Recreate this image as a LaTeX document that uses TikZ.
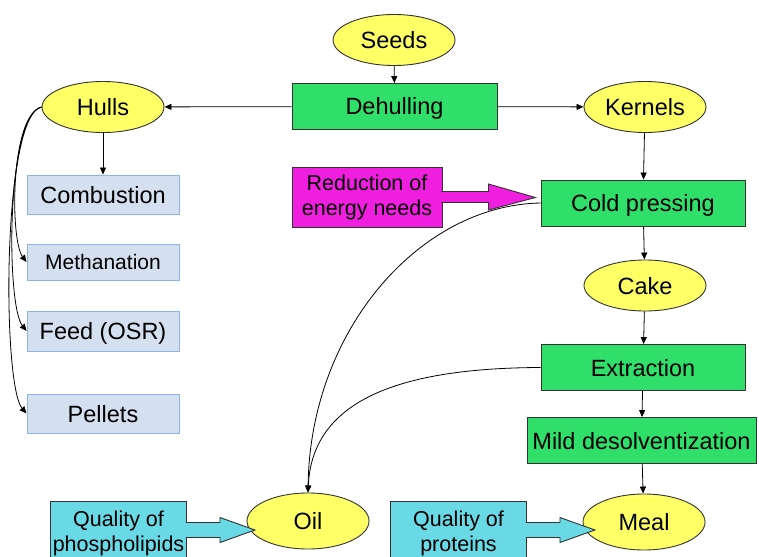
\documentclass[tikz,border=0pt]{standalone}
\usepackage{fontspec}
\setmainfont{Liberation Sans}
\usetikzlibrary{shapes.geometric,arrows.meta,calc}
\definecolor{bulb}{RGB}{255,255,102}
\definecolor{stepgreen}{RGB}{48,222,106}
\definecolor{usebox}{RGB}{212,223,239}
\definecolor{useline}{RGB}{142,180,227}
\definecolor{pinkish}{RGB}{240,30,222}
\definecolor{aqua}{RGB}{104,217,229}
\begin{document}
\begin{tikzpicture}[x=1pt,y=-1pt,line width=0.9pt,
	font=\fontsize{23.5}{26}\selectfont,
	product/.style={ellipse,draw=black!80,fill=bulb,minimum width=122pt,minimum height=51pt,inner sep=0pt,text height=17pt,text depth=0pt},
	process/.style={rectangle,draw=black!80,fill=stepgreen,minimum width=204pt,minimum height=46pt,inner sep=0pt,text height=17pt,text depth=0pt},
	use/.style={rectangle,draw=useline,fill=usebox,minimum width=152pt,minimum height=39pt,inner sep=0pt,text height=17pt,text depth=0pt},
	flow/.style={-{Triangle[length=7pt,width=6pt]},line width=0.8pt},
	note/.style={rectangle,draw=black!80,inner sep=0pt,align=center,font=\fontsize{21.5}{25}\selectfont}]
\useasboundingbox (0,0) rectangle (759,556);
% main line
\node[product] (seeds) at (394,40) {Seeds};
\node[process,minimum width=205pt] (dehull) at (394.5,106.5) {Dehulling};
\node[product] (hulls) at (103,107) {Hulls};
\node[product] (kernels) at (645,107) {Kernels};
\node[process] (cold) at (643,203) {Cold pressing};
\node[product] (cake) at (645,285.5) {Cake};
\node[process] (extr) at (643,367.5) {Extraction};
\node[process,minimum width=229pt] (mild) at (641.5,440.5) {Mild desolventization};
\node[product,minimum height=56pt] (meal) at (644,522) {Meal};
\node[product,minimum height=56pt] (oil) at (308,521) {Oil};
% uses of the hulls
\node[use] (comb) at (103,194.5) {Combustion};
\node[use,minimum height=36pt,text height=15pt,font=\fontsize{21}{24}\selectfont] (meth) at (103,262) {Methanation};
\node[use,minimum height=40pt] (feed) at (103,331) {Feed (OSR)};
\node[use] (pellets) at (103,413.5) {Pellets};
% notes
\node[note,fill=pinkish,minimum width=150pt,minimum height=60pt] (energy) at (367,197) {Reduction of\\energy needs};
\node[note,fill=aqua,minimum width=136pt,minimum height=64pt] (phos) at (118.5,533) {Quality of\\phospholipids};
\node[note,fill=aqua,minimum width=136pt,minimum height=64pt] (prot) at (458.5,533) {Quality of\\proteins};
\filldraw[fill=pinkish,draw=black!80]
	($(energy.east)+(-1,-5.5)$) -- ($(energy.east)+(46,-5.5)$) -- ($(energy.east)+(46,-13)$)
	-- ($(energy.east)+(93,0.5)$)
	-- ($(energy.east)+(46,13)$) -- ($(energy.east)+(46,5.5)$) -- ($(energy.east)+(-1,5.5)$);
\filldraw[fill=aqua,draw=black!80]
	($(phos.east)+(-1,-10.5)$) -- ($(phos.east)+(33,-10.5)$) -- ($(phos.east)+(33,-15.5)$)
	-- ($(phos.east)+(68,-3)$)
	-- ($(phos.east)+(33,9.5)$) -- ($(phos.east)+(33,4.5)$) -- ($(phos.east)+(-1,4.5)$);
\filldraw[fill=aqua,draw=black!80]
	($(prot.east)+(-1,-10.5)$) -- ($(prot.east)+(33,-10.5)$) -- ($(prot.east)+(33,-15.5)$)
	-- ($(prot.east)+(68,-3)$)
	-- ($(prot.east)+(33,9.5)$) -- ($(prot.east)+(33,4.5)$) -- ($(prot.east)+(-1,4.5)$);
% connectors
\draw[flow] (seeds) -- (dehull);
\draw[flow] (dehull) -- (hulls);
\draw[flow] (dehull) -- (kernels);
\draw[flow] (hulls) -- (comb);
\draw[flow] (hulls.west) .. controls (10,115) and (10,240) .. (meth.west);
\draw[flow] (hulls.west) .. controls (6,115) and (6,305) .. (feed.west);
\draw[flow] (hulls.west) .. controls (2,115) and (2,385) .. (pellets.west);
\draw[flow] (kernels) -- (cold);
\draw[flow] (cold) -- (cake);
\draw[flow] (cake) -- (extr);
\draw[flow] (extr) -- (mild);
\draw[flow] (mild) -- (meal);
\draw[flow] (cold.west) .. controls (420,205) and (310,330) .. (oil.north);
\draw[flow] (extr.west) .. controls (400,368) and (312,400) .. (oil.north);
\end{tikzpicture}
\end{document}
